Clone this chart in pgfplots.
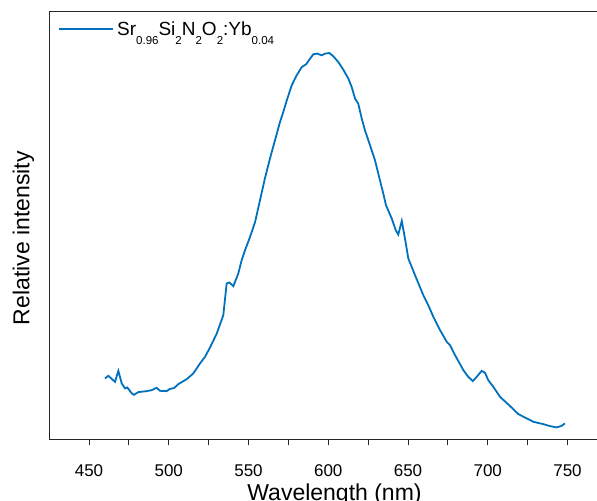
\documentclass[border=0pt]{standalone}
\usepackage{pgfplots}
\pgfplotsset{compat=1.18}
\usetikzlibrary{calc}
\usepackage{fontspec}
\setmainfont{Liberation Sans}
\definecolor{specblue}{RGB}{0,114,189}
\newcommand{\lsub}[1]{\raisebox{-9.5pt}{\fontsize{11.5}{12}\selectfont #1}}

\begin{document}
\begin{tikzpicture}
\begin{axis}[
    name=main,
    scale only axis,
    width=547.7pt,
    height=428pt,
    xmin=425.1, xmax=768.5,
    ymin=0, ymax=19,
    axis x line*=box,
    axis y line*=left,
    axis line style={black!85, line width=0.9pt},
    xtick={425,450,...,775},
    xticklabels={,450,,500,,550,,600,,650,,700,,750,},
    xtick align=outside,
    xtick pos=bottom,
    major tick length=5.5pt,
    ytick=\empty,
    minor ytick={0,...,19},
    minor tick length=2pt,
    ytick align=inside,
    ytick pos=left,
    tick style={black!85, line width=0.8pt},
    /pgf/number format/assume math mode=true,
    xticklabel style={font=\fontsize{17}{20}\selectfont, anchor=base, yshift=-31pt},
    xlabel={Wavelength (nm)},
    xlabel style={at={(axis description cs:0.5207,0)}, anchor=base, yshift=-60.5pt, font=\fontsize{23}{27}\selectfont},
    ylabel={Relative intensity},
    ylabel style={at={(axis description cs:-0.0365,0.471)}, anchor=base, font=\fontsize{23}{27}\selectfont},
]
\addplot[specblue, line width=1.8pt] coordinates {
(460.0,2.720) (462.1,2.835) (466.3,2.569) (468.4,3.057) (470.5,2.498)
(472.6,2.276) (474.0,2.320) (476.8,2.054) (478.2,1.992) (480.9,2.112)
(486.2,2.156) (489.3,2.201) (492.4,2.303) (494.5,2.170) (498.7,2.156)
(500.8,2.258) (503.3,2.289) (506.0,2.467) (511.3,2.689) (515.4,2.942)
(519.6,3.385) (522.7,3.678) (525.9,4.095) (530.1,4.716) (534.2,5.528)
(536.3,6.934) (538.0,6.979) (540.5,6.815) (543.6,7.378) (545.7,7.968)
(547.8,8.412) (550.9,8.989) (554.1,9.654) (557.2,10.630) (560.3,11.606)
(563.5,12.494) (566.6,13.292) (569.7,14.091) (571.8,14.548) (574.0,15.067)
(577.1,15.732) (580.2,16.176) (583.4,16.544) (586.1,16.664) (588.6,16.917)
(590.6,17.108) (593.1,17.139) (595.9,17.063) (598.0,17.139) (600.7,17.165)
(603.2,17.019) (606.3,16.766) (609.4,16.429) (612.6,16.030) (614.7,15.657)
(616.8,15.142) (618.8,14.920) (621.0,14.255) (623.0,13.736) (626.2,13.070)
(629.3,12.405) (632.4,11.517) (634.5,10.927) (636.2,10.408) (639.8,9.818)
(642.3,9.299) (643.9,9.108) (646.1,9.712) (648.1,8.931) (650.2,8.044)
(654.4,7.303) (659.6,6.415) (662.7,5.972) (665.9,5.453) (670.1,4.862)
(674.3,4.343) (676.3,4.197) (679.5,3.753) (684.7,3.088) (687.8,2.791)
(690.6,2.600) (693.1,2.791) (696.2,3.057) (698.3,2.968) (700.3,2.644)
(703.5,2.347) (707.7,1.903) (714.0,1.491) (719.2,1.136) (724.4,0.945)
(728.6,0.794) (734.8,0.692) (739.0,0.603) (743.2,0.546) (746.4,0.617)
(748.4,0.723)
};
% legend, drawn by hand
\draw[specblue, line width=1.8pt] (axis description cs:0.0177,0.9593) -- (axis description cs:0.1163,0.9593);
\node[anchor=base west, inner sep=0pt, font=\fontsize{19}{22}\selectfont]
    at (axis description cs:0.1236,0.9453)
    {Sr\lsub{0.96}Si\lsub{2}N\lsub{2}O\lsub{2}:Yb\lsub{0.04}};
\end{axis}
\pgfresetboundingbox
\path[use as bounding box] ($(main.south west)+(-49.3pt,-60.4pt)$) rectangle ($(main.north east)+(0pt,11.7pt)$);
\end{tikzpicture}
\end{document}
